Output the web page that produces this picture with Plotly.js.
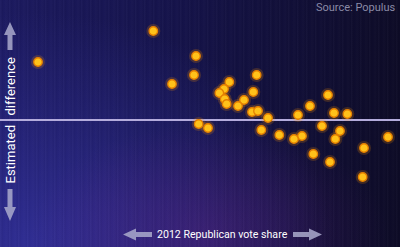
<!DOCTYPE html>
<html>
<head>
<meta charset="utf-8">
<script src="https://cdn.plot.ly/plotly-3.0.1.min.js"></script>
<style>
  html, body { margin: 0; padding: 0; background: #0d0b26; }
  #chart {
    width: 400px; height: 247px;
    background:
      repeating-linear-gradient(90deg, rgba(255,255,255,0.025) 0px, rgba(255,255,255,0.025) 1px, rgba(0,0,0,0.04) 2px, rgba(0,0,0,0) 4px, rgba(255,255,255,0.015) 6px, rgba(0,0,0,0.03) 9px),
      radial-gradient(ellipse 45% 45% at 52% 95%, rgba(120,40,150,0.3), rgba(120,40,150,0) 100%),
      radial-gradient(ellipse 75% 95% at 8% 100%, rgba(48,46,150,0.95) 0%, rgba(48,46,150,0.4) 55%, rgba(48,46,150,0) 100%),
      linear-gradient(90deg, #1c1a60 0%, #15134a 45%, #0d0b26 100%);
  }
</style>
</head>
<body>
<div id="chart"></div>
<script>
// 2012 Republican vote share (%) per state
const voteShare = [20.7, 38.0, 44.4, 44.1, 40.8, 53.5, 49.4, 48.6, 47.9, 53.0,
                   48.7, 51.6, 49.0, 50.7, 52.8, 53.7, 55.2, 44.8, 46.2, 54.2,
                   64.2, 61.5, 59.7, 65.1, 67.1, 63.3, 66.0, 56.9, 60.3, 59.1,
                   65.3, 73.2, 69.6, 62.0, 64.5, 69.4];
// Estimated difference (points)
const estDiff = [5.8, 8.9, 6.4, 4.5, 3.6, 4.5, 3.8, 3.1, 2.7, 2.8,
                 2.1, 2.0, 1.6, 1.4, 0.8, 0.9, 0.2, -0.4, -0.8, -1.0,
                 2.5, 1.4, 0.5, 0.7, 0.6, -0.6, -1.1, -1.5, -1.6, -1.9,
                 -1.9, -1.7, -2.8, -3.4, -4.2, -5.7];
const xRange = [15, 75];
const yRange = [-12.7, 12];
const xTitle = "2012 Republican vote share";
const yTitleTop = "difference";
const yTitleBottom = "Estimated";
const sourceText = "Source: Populus";

const glow = {
  x: voteShare, y: estDiff, type: 'scatter', mode: 'markers',
  marker: { size: 14, color: 'rgba(255,150,0,0.2)', line: { width: 0 } },
  hoverinfo: 'skip', showlegend: false
};
const pts = {
  x: voteShare, y: estDiff, type: 'scatter', mode: 'markers',
  marker: { size: 8.5, color: '#ffc21a', line: { width: 1.3, color: '#e58000' } },
  showlegend: false
};

const arrowCol = 'rgba(170,170,205,0.85)';
function px(x) { return x / 400; }
function py(y) { return 1 - y / 247; }
function path(points) {
  return 'M ' + points.map(p => px(p[0]) + ' ' + py(p[1])).join(' L ') + ' Z';
}
const upArrow = path([[10, 22], [16, 35], [12.5, 35], [12.5, 50], [7.5, 50], [7.5, 35], [4, 35]]);
const downArrow = path([[10, 221], [16, 207], [12.5, 207], [12.5, 189], [7.5, 189], [7.5, 207], [4, 207]]);
const leftArrow = path([[123, 234.5], [136, 228.5], [136, 232], [152, 232], [152, 237], [136, 237], [136, 240.5]]);
const rightArrow = path([[322, 234.5], [309, 228.5], [309, 232], [293, 232], [293, 237], [309, 237], [309, 240.5]]);

const layout = {
  width: 400, height: 247,
  margin: { l: 0, r: 0, t: 0, b: 0 },
  paper_bgcolor: 'rgba(0,0,0,0)',
  plot_bgcolor: 'rgba(0,0,0,0)',
  xaxis: { range: xRange, visible: false, fixedrange: true },
  yaxis: { range: yRange, visible: false, fixedrange: true },
  shapes: [
    { type: 'line', xref: 'paper', x0: 0, x1: 1, yref: 'y', y0: 0, y1: 0,
      line: { color: '#b4acdc', width: 2 }, layer: 'below' },
    { type: 'path', xref: 'paper', yref: 'paper', path: upArrow, fillcolor: arrowCol, line: { width: 0 } },
    { type: 'path', xref: 'paper', yref: 'paper', path: downArrow, fillcolor: arrowCol, line: { width: 0 } },
    { type: 'path', xref: 'paper', yref: 'paper', path: leftArrow, fillcolor: arrowCol, line: { width: 0 } },
    { type: 'path', xref: 'paper', yref: 'paper', path: rightArrow, fillcolor: arrowCol, line: { width: 0 } }
  ],
  annotations: [
    { text: sourceText, xref: 'paper', yref: 'paper', x: px(398), y: py(7), xanchor: 'right', yanchor: 'middle',
      showarrow: false, font: { family: 'Roboto', size: 11, color: '#8a8aa6' } },
    { text: yTitleTop, xref: 'paper', yref: 'paper', x: px(10), y: py(86.5), xanchor: 'center', yanchor: 'middle',
      textangle: -90, showarrow: false, font: { family: 'Roboto', size: 13, color: '#ffffff' } },
    { text: yTitleBottom, xref: 'paper', yref: 'paper', x: px(10), y: py(154.5), xanchor: 'center', yanchor: 'middle',
      textangle: -90, showarrow: false, font: { family: 'Roboto', size: 13, color: '#ffffff' } },
    { text: xTitle, xref: 'paper', yref: 'paper', x: px(222.5), y: py(234.5), xanchor: 'center', yanchor: 'middle',
      showarrow: false, font: { family: 'Roboto', size: 10.6, color: '#ffffff' } }
  ]
};

Plotly.newPlot('chart', [glow, pts], layout, { displayModeBar: false, staticPlot: true });
</script>
</body>
</html>
